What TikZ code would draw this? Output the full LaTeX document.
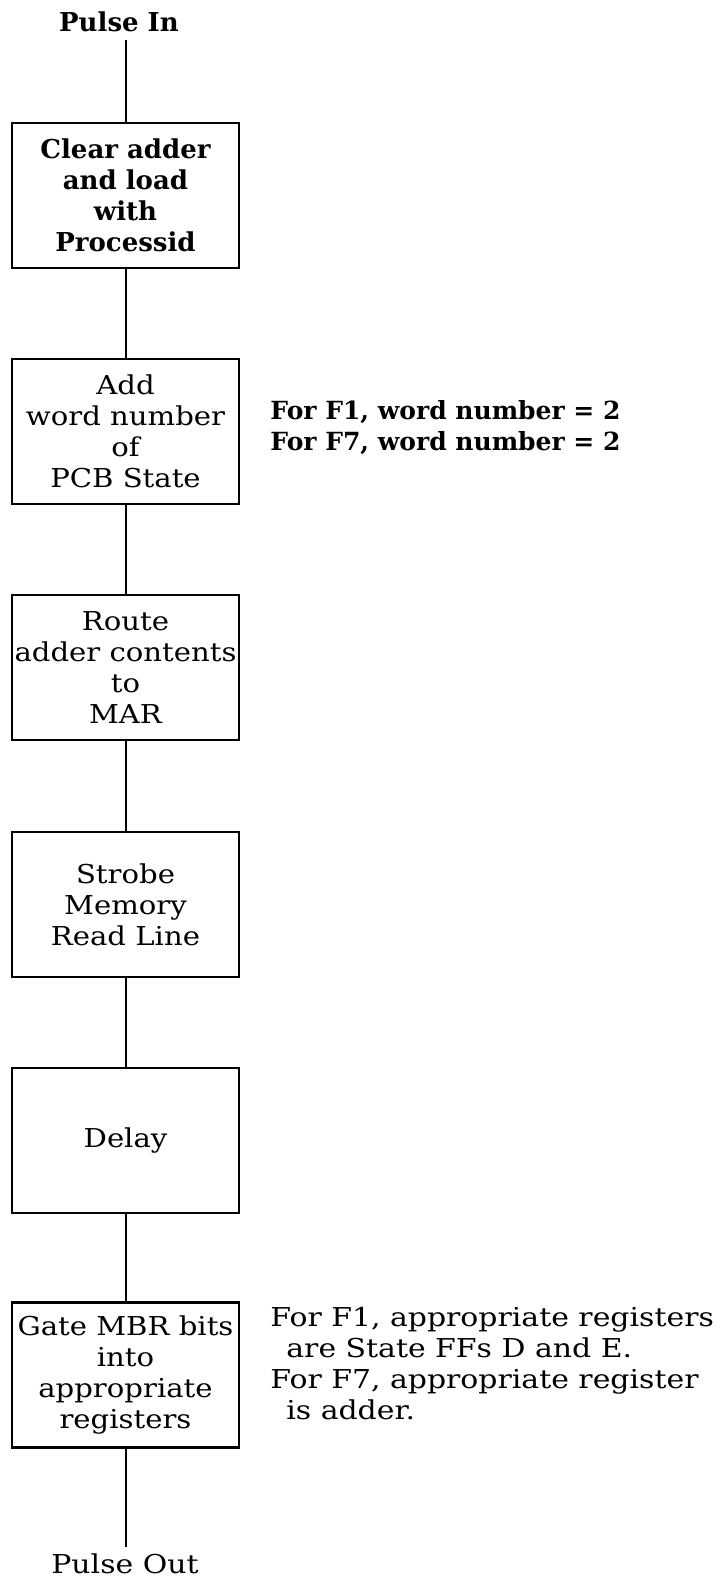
\documentclass[tikz,border=0pt]{standalone}
\usepackage{fontspec}
\setmainfont{DejaVu Serif}
\newfontfamily\scanfont[FakeStretch=1.15]{DejaVu Serif}
\newfontfamily\boxfont[FakeStretch=1.12]{DejaVu Serif}
\begin{document}
\begin{tikzpicture}[x=0.5pt,y=-0.5pt,
    stepbox/.style={draw, line width=1.3pt, minimum width=113.5pt, minimum height=72.5pt,
      inner sep=0.5pt, align=center, font=\fontsize{13}{15.5}\selectfont\boxfont},
    note/.style={anchor=west, align=left, inner sep=0pt, font=\fontsize{13}{15.5}\selectfont\scanfont},
    boldtext/.style={font=\fontsize{13}{15.5}\selectfont\bfseries},
    wire/.style={line width=1pt}]
  \useasboundingbox (0,0) rectangle (714,1578);
  \node[boldtext] (pulsein) at (119,22) {Pulse In};
  \coordinate (intop) at (125.5,40);
  \node[stepbox, boldtext] (clear) at (125.5,195.5) {Clear adder\\and load\\with\\Processid};
  \node[stepbox] (addword) at (125.5,431.5) {Add\\word number\\of\\PCB State};
  \node[stepbox] (route) at (125.5,667.5) {Route\\adder contents\\to\\MAR};
  \node[stepbox] (strobe) at (125.5,904.5) {Strobe\\Memory\\Read Line};
  \node[stepbox] (delay) at (125.5,1140.5) {Delay};
  \node[stepbox] (gate) at (125.5,1375) {Gate MBR bits\\into\\appropriate\\registers};
  \coordinate (outend) at (125.5,1547);
  \node[font=\fontsize{13}{15.5}\selectfont\scanfont] (pulseout) at (125,1564) {Pulse Out};
  % side notes
  \node[note, font=\fontsize{12.5}{15.5}\selectfont\bfseries] (wordnote) at (270,428)
    {For F1, word number = 2\\For F7, word number = 2};
  \node[note] (regnote) at (270,1364)
    {For F1, appropriate registers\\\hspace{8pt}are State FFs D and E.\\For F7, appropriate register\\\hspace{8pt}is adder.};
  % pulse path
  \draw[wire] (intop) -- (clear);
  \foreach \a/\b in {clear/addword, addword/route, route/strobe, strobe/delay, delay/gate}
    \draw[wire] (\a) -- (\b);
  \draw[wire] (gate) -- (outend);
\end{tikzpicture}
\end{document}
